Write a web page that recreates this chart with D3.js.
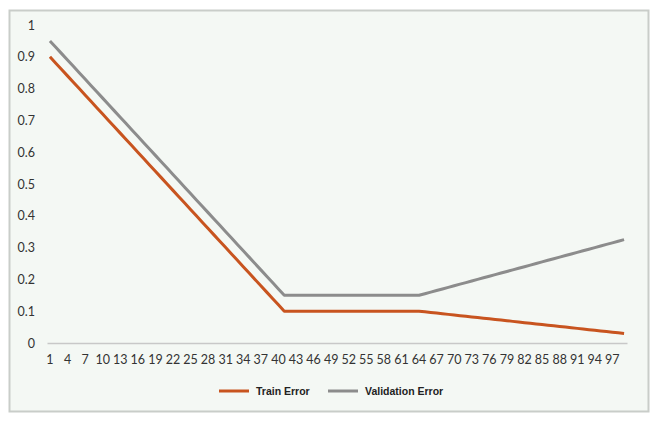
<!DOCTYPE html>
<html>
<head>
<meta charset="utf-8">
<script src="https://cdn.jsdelivr.net/npm/d3@7"></script>
<style>
  body { margin: 0; background: #ffffff; }
</style>
</head>
<body>
<div id="plot"></div>
<script>
// Epochs 1..99, labels on every third
const epochs = d3.range(1, 100);
const yTicks = [0, 0.1, 0.2, 0.3, 0.4, 0.5, 0.6, 0.7, 0.8, 0.9, 1];

const trainError = [
  0.90, 0.88, 0.86, 0.84, 0.82, 0.80, 0.78, 0.76, 0.74, 0.72,
  0.70, 0.68, 0.66, 0.64, 0.62, 0.60, 0.58, 0.56, 0.54, 0.52,
  0.50, 0.48, 0.46, 0.44, 0.42, 0.40, 0.38, 0.36, 0.34, 0.32,
  0.30, 0.28, 0.26, 0.24, 0.22, 0.20, 0.18, 0.16, 0.14, 0.12,
  0.10, 0.10, 0.10, 0.10, 0.10, 0.10, 0.10, 0.10, 0.10, 0.10,
  0.10, 0.10, 0.10, 0.10, 0.10, 0.10, 0.10, 0.10, 0.10, 0.10,
  0.10, 0.10, 0.10, 0.10, 0.098, 0.096, 0.094, 0.092, 0.090, 0.088,
  0.086, 0.084, 0.082, 0.080, 0.078, 0.076, 0.074, 0.072, 0.070, 0.068,
  0.066, 0.064, 0.062, 0.060, 0.058, 0.056, 0.054, 0.052, 0.050, 0.048,
  0.046, 0.044, 0.042, 0.040, 0.038, 0.036, 0.034, 0.032, 0.030
];

const validationError = [
  0.95, 0.93, 0.91, 0.89, 0.87, 0.85, 0.83, 0.81, 0.79, 0.77,
  0.75, 0.73, 0.71, 0.69, 0.67, 0.65, 0.63, 0.61, 0.59, 0.57,
  0.55, 0.53, 0.51, 0.49, 0.47, 0.45, 0.43, 0.41, 0.39, 0.37,
  0.35, 0.33, 0.31, 0.29, 0.27, 0.25, 0.23, 0.21, 0.19, 0.17,
  0.15, 0.15, 0.15, 0.15, 0.15, 0.15, 0.15, 0.15, 0.15, 0.15,
  0.15, 0.15, 0.15, 0.15, 0.15, 0.15, 0.15, 0.15, 0.15, 0.15,
  0.15, 0.15, 0.15, 0.15, 0.155, 0.160, 0.165, 0.170, 0.175, 0.180,
  0.185, 0.190, 0.195, 0.200, 0.205, 0.210, 0.215, 0.220, 0.225, 0.230,
  0.235, 0.240, 0.245, 0.250, 0.255, 0.260, 0.265, 0.270, 0.275, 0.280,
  0.285, 0.290, 0.295, 0.300, 0.305, 0.310, 0.315, 0.320, 0.325
];

const series = [
  {name: "Train Error", values: trainError, color: "#c8541f"},
  {name: "Validation Error", values: validationError, color: "#8c8c8c"}
];

const width = 657;
const height = 422;
const marginTop = 25;
const marginRight = 30;
const marginBottom = 79;
const marginLeft = 47;

const svg = d3.select("#plot")
    .append("svg")
    .attr("width", width)
    .attr("height", height)
    .attr("viewBox", [0, 0, width, height]);

// Chart area frame
svg.append("rect")
    .attr("x", 9.5)
    .attr("y", 10.5)
    .attr("width", 639)
    .attr("height", 401)
    .attr("fill", "#f4f8f4")
    .attr("stroke", "#c9cdc9")
    .attr("stroke-width", 2);

const x = d3.scaleBand()
    .domain(epochs)
    .range([marginLeft, width - marginRight]);

const y = d3.scaleLinear()
    .domain([0, 1])
    .range([height - marginBottom, marginTop]);

// Vertical axis (labels only)
svg.append("g")
    .attr("transform", `translate(${marginLeft - 12},0)`)
    .call(d3.axisLeft(y).tickValues(yTicks).tickSize(0).tickPadding(0).tickFormat(d3.format("~g")))
    .call(g => g.select(".domain").remove())
    .call(g => g.selectAll("text")
        .attr("fill", "#333")
        .style("font", "12.5px Lato, sans-serif"));

// Horizontal axis
svg.append("g")
    .attr("transform", `translate(0,${y(0)})`)
    .call(d3.axisBottom(x).tickValues(epochs.filter(d => (d - 1) % 3 === 0)).tickSize(0).tickPadding(12))
    .call(g => g.select(".domain").attr("stroke", "#c8c8c8").attr("stroke-width", 1.5))
    .call(g => g.selectAll("text")
        .attr("fill", "#333")
        .style("font", "12.5px Lato, sans-serif"));

// Lines
const line = d3.line()
    .x((d, i) => x(epochs[i]) + x.bandwidth() / 2)
    .y(d => y(d));

svg.append("g")
    .attr("fill", "none")
    .attr("stroke-width", 3)
    .attr("stroke-linejoin", "round")
    .selectAll("path")
    .data(series)
    .join("path")
    .attr("stroke", d => d.color)
    .attr("d", d => line(d.values));

// Legend
const legendX = [219, 328];
const legend = svg.append("g")
    .selectAll("g")
    .data(series)
    .join("g")
    .attr("transform", (d, i) => `translate(${legendX[i]},391)`);

legend.append("line")
    .attr("x1", 0)
    .attr("x2", 30)
    .attr("stroke", d => d.color)
    .attr("stroke-width", 3);

legend.append("text")
    .attr("x", 37)
    .attr("dy", "0.35em")
    .attr("fill", "#222")
    .style("font", "bold 10.5px 'Liberation Sans', Arial, sans-serif")
    .text(d => d.name);
</script>
</body>
</html>
